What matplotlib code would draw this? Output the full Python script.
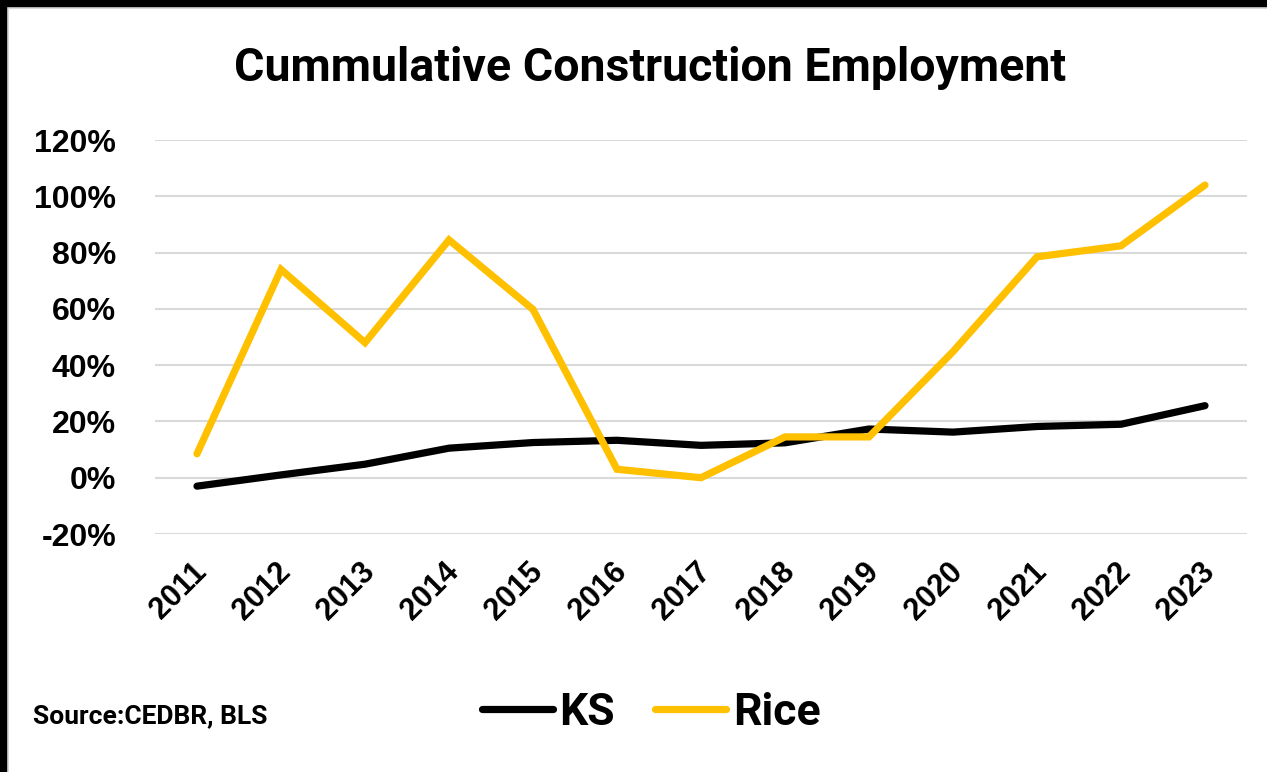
"""Cumulative construction employment: KS vs Rice"""

import matplotlib.pyplot as plt
from matplotlib.lines import Line2D
from matplotlib.ticker import FuncFormatter
from matplotlib.transforms import ScaledTranslation

years = ["2011", "2012", "2013", "2014", "2015", "2016", "2017",
         "2018", "2019", "2020", "2021", "2022", "2023"]
ks = [-3.0, 1.0, 4.8, 10.5, 12.5, 13.3, 11.5, 12.4, 17.3, 16.2, 18.2, 19.0, 25.6]
rice = [8.5, 74.0, 48.0, 84.5, 59.8, 3.0, 0.0, 14.5, 14.5, 44.8, 78.5, 82.4, 104.0]
yticks = [-20, 0, 20, 40, 60, 80, 100, 120]

W, H = 1267, 772
fig = plt.figure(figsize=(W / 100, H / 100), dpi=100)

# screenshot frame: black band on top and left, light gray inner edge
fig.patches.append(plt.Rectangle((0, 1 - 6 / H), 1, 6 / H, transform=fig.transFigure,
                                 color="black", zorder=10))
fig.patches.append(plt.Rectangle((0, 0), 6 / W, 1, transform=fig.transFigure,
                                 color="black", zorder=10))
fig.add_artist(Line2D([6 / W, 1], [1 - 7.5 / H, 1 - 7.5 / H], transform=fig.transFigure,
                      color="#D9D9D9", lw=1.5))
fig.add_artist(Line2D([7.5 / W, 7.5 / W], [0, 1 - 7 / H], transform=fig.transFigure,
                      color="#D9D9D9", lw=1.5))

ax = fig.add_axes([155 / W, 1 - 534 / H, 1092 / W, 394 / H])
x = range(len(years))
ax.plot(x, ks, color="black", lw=5.2, solid_capstyle="round", solid_joinstyle="miter",
        label="KS", zorder=3)
ax.plot(x, rice, color="#FFC000", lw=5.2, solid_capstyle="round", solid_joinstyle="miter",
        label="Rice", zorder=3)

ax.set_xlim(-0.5, len(years) - 0.5)
ax.set_ylim(-20, 120)
ax.set_yticks(yticks)
ax.yaxis.set_major_formatter(FuncFormatter(lambda v, p: f"{v:.0f}%"))
ax.grid(axis="y", color="#D9D9D9", lw=1.5)
ax.set_axisbelow(True)
for s in ax.spines.values():
    s.set_visible(False)

ax.tick_params(axis="y", length=0, pad=28)
ax.tick_params(axis="x", length=0, pad=14)
for lab in ax.get_yticklabels():
    lab.set_fontfamily("Liberation Sans")
    lab.set_fontweight("bold")
    lab.set_fontsize(23)
ax.set_xticks(list(x))
ax.set_xticklabels(years, rotation=45, ha="right", va="center", rotation_mode="anchor",
                   family="Liberation Sans", weight="bold", fontsize=22)
shift = ScaledTranslation(5 / 100, -14 / 100, fig.dpi_scale_trans)
for lab in ax.get_xticklabels():
    lab.set_transform(lab.get_transform() + shift)

fig.text(650 / W, 1 - 68 / H, "Cummulative Construction Employment", ha="center",
         va="center", family="Roboto", weight="bold", fontsize=33.5)
fig.text(33 / W, 1 - 723 / H, "Source:CEDBR, BLS", ha="left", va="baseline",
         family="Roboto", weight="bold", fontsize=19)

fig.legend(loc="center", bbox_to_anchor=(651 / W, 1 - 713 / H), ncol=2, frameon=False,
           prop={"family": "Roboto", "weight": "bold", "size": 32},
           handlelength=1.6, handletextpad=0.15, columnspacing=0.9)

fig.savefig("out.png", dpi=100)
plt.close(fig)
